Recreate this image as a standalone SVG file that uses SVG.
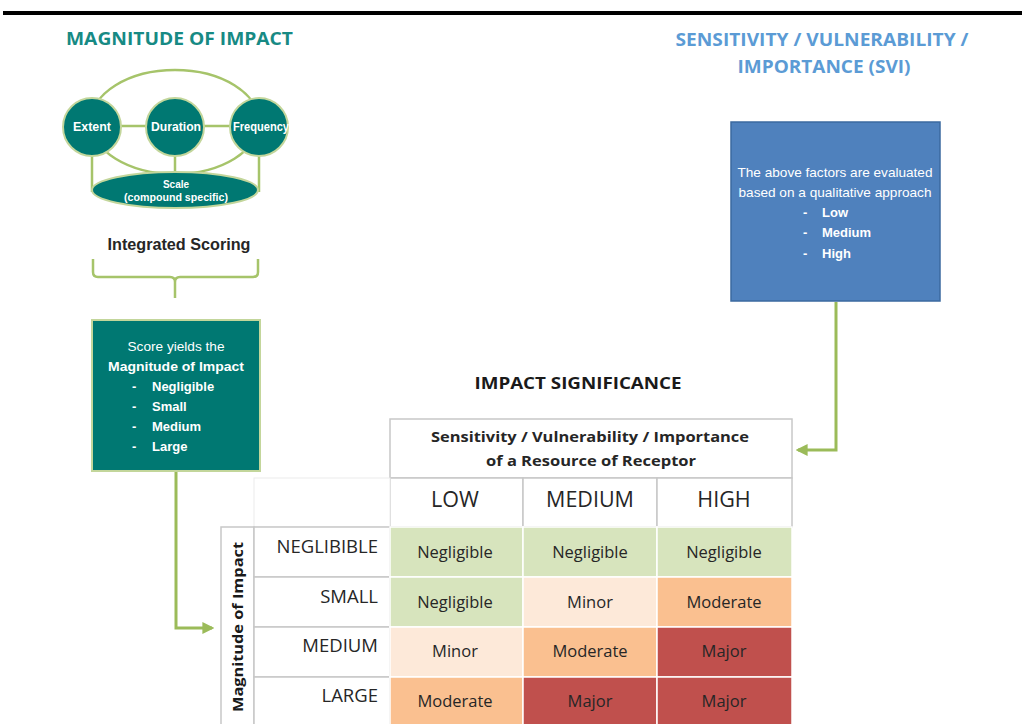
<svg xmlns="http://www.w3.org/2000/svg" width="1022" height="724" viewBox="0 0 1022 724">
<defs>
<style>
.t{font-family:"Open Sans","Liberation Sans",sans-serif}
.n{font-family:"Liberation Sans Narrow","Liberation Sans",sans-serif}
.wt{fill:#fff}
.conn{fill:none;stroke:#9bbb59;stroke-width:3}
.gl{stroke:#c8c8c8;stroke-width:1.5;fill:#fff}
.ct{font-family:"Open Sans","Liberation Sans",sans-serif;font-size:16.5px;fill:#262626;text-anchor:middle}
.rh{font-family:"Open Sans","Liberation Sans",sans-serif;font-size:18.5px;fill:#262626;text-anchor:end}
.ch{font-family:"Open Sans","Liberation Sans",sans-serif;font-size:21.5px;fill:#262626;text-anchor:middle}
</style>
<marker id="ah" viewBox="0 0 10 10" refX="8" refY="5" markerWidth="4" markerHeight="4" orient="auto">
<path d="M0,0 L10,5 L0,10 Z" fill="#9bbb59"/>
</marker>
</defs>
<rect width="1022" height="724" fill="#fff"/>
<rect x="3" y="11" width="1019" height="4" fill="#000"/>

<g id="title-magnitude">
<text class="t" x="66" y="45" font-size="17" font-weight="bold" fill="#178a84" textLength="227" lengthAdjust="spacingAndGlyphs">MAGNITUDE OF IMPACT</text>
</g>
<g id="title-svi">
<text class="t" x="822" y="46" font-size="17" font-weight="bold" fill="#5b9bd5" text-anchor="middle" textLength="293" lengthAdjust="spacingAndGlyphs">SENSITIVITY / VULNERABILITY /</text>
<text class="t" x="824" y="73" font-size="17" font-weight="bold" fill="#5b9bd5" text-anchor="middle" textLength="173" lengthAdjust="spacingAndGlyphs">IMPORTANCE (SVI)</text>
</g>

<g id="factors">
<ellipse cx="175" cy="122" rx="84" ry="52" fill="none" stroke="#a6c46a" stroke-width="2.5"/>
<line x1="92" y1="126" x2="259" y2="126" stroke="#a6c46a" stroke-width="2.5"/>
<line x1="92" y1="150" x2="92" y2="192" stroke="#a6c46a" stroke-width="2.5"/>
<line x1="175" y1="150" x2="175" y2="180" stroke="#a6c46a" stroke-width="2.5"/>
<line x1="259" y1="150" x2="259" y2="192" stroke="#a6c46a" stroke-width="2.5"/>
<g id="extent"><circle cx="92" cy="127" r="29" fill="#007872" stroke="#c3d69b" stroke-width="2"/>
<text class="n wt" x="92" y="131" font-size="12" font-weight="bold" text-anchor="middle" textLength="38" lengthAdjust="spacingAndGlyphs">Extent</text></g>
<g id="duration"><circle cx="175" cy="127" r="29" fill="#007872" stroke="#c3d69b" stroke-width="2"/>
<text class="n wt" x="176" y="131" font-size="12" font-weight="bold" text-anchor="middle" textLength="50" lengthAdjust="spacingAndGlyphs">Duration</text></g>
<g id="frequency"><circle cx="259" cy="127" r="29" fill="#007872" stroke="#c3d69b" stroke-width="2"/>
<text class="n wt" x="261" y="131" font-size="12" font-weight="bold" text-anchor="middle" textLength="56" lengthAdjust="spacingAndGlyphs">Frequency</text></g>
<g id="scale"><ellipse cx="175" cy="190" rx="83" ry="18" fill="#007872" stroke="#c3d69b" stroke-width="2"/>
<text class="n wt" x="176" y="188" font-size="10" font-weight="bold" text-anchor="middle">Scale</text>
<text class="n wt" x="176" y="201" font-size="10" font-weight="bold" text-anchor="middle" textLength="104" lengthAdjust="spacingAndGlyphs">(compound specific)</text></g>
</g>

<g id="integrated-scoring">
<text class="n" x="179" y="250" font-size="16" font-weight="bold" fill="#262626" text-anchor="middle" textLength="143" lengthAdjust="spacingAndGlyphs">Integrated Scoring</text>
<path d="M93,259 V272 Q93,277 98,277 H170 Q175,277 175,282 V298 M175,282 Q175,277 180,277 H253 Q258,277 258,272 V259" fill="none" stroke="#a6c46a" stroke-width="2.5"/>
</g>

<g id="magnitude-box">
<rect x="92" y="320" width="168" height="151" fill="#007872" stroke="#c3d69b" stroke-width="2"/>
<text class="n wt" x="176" y="351" font-size="13" text-anchor="middle" textLength="97" lengthAdjust="spacingAndGlyphs">Score yields  the</text>
<text class="n wt" x="176" y="371" font-size="13" font-weight="bold" text-anchor="middle" textLength="136" lengthAdjust="spacingAndGlyphs">Magnitude of Impact</text>
<g class="n wt" font-size="13" font-weight="bold">
<text x="132" y="391">-</text><text x="152" y="391">Negligible</text>
<text x="132" y="411">-</text><text x="152" y="411">Small</text>
<text x="132" y="431">-</text><text x="152" y="431">Medium</text>
<text x="132" y="451">-</text><text x="152" y="451">Large</text>
</g>
</g>

<g id="svi-box">
<rect x="731" y="122" width="209" height="179" fill="#4f81bd" stroke="#3b6aa0" stroke-width="1.5"/>
<text class="n wt" x="835" y="177" font-size="13" text-anchor="middle" textLength="195" lengthAdjust="spacingAndGlyphs">The above  factors are evaluated</text>
<text class="n wt" x="835" y="197" font-size="13" text-anchor="middle" textLength="193" lengthAdjust="spacingAndGlyphs">based on a qualitative  approach</text>
<g class="n wt" font-size="13" font-weight="bold">
<text x="803" y="217">-</text><text x="822" y="217">Low</text>
<text x="803" y="237">-</text><text x="822" y="237">Medium</text>
<text x="803" y="258">-</text><text x="822" y="258">High</text>
</g>
</g>

<g id="connectors">
<path class="conn" d="M176,472 V628 H212" marker-end="url(#ah)"/>
<path class="conn" d="M836,302 V450 H798" marker-end="url(#ah)"/>
</g>

<g id="impact-significance">
<text class="t" x="578" y="389" font-size="16" font-weight="bold" fill="#1a1a1a" text-anchor="middle" textLength="207" lengthAdjust="spacingAndGlyphs">IMPACT SIGNIFICANCE</text>
<g id="header">
<rect class="gl" x="390" y="419" width="402" height="59"/>
<text class="t" x="590" y="442" font-size="14" font-weight="bold" fill="#262626" text-anchor="middle" textLength="318" lengthAdjust="spacingAndGlyphs">Sensitivity / Vulnerability / Importance</text>
<text class="t" x="591" y="466" font-size="14" font-weight="bold" fill="#262626" text-anchor="middle" textLength="210" lengthAdjust="spacingAndGlyphs">of a Resource of Receptor</text>
<rect class="gl" x="390" y="478" width="133" height="49"/>
<rect class="gl" x="523" y="478" width="134" height="49"/>
<rect class="gl" x="657" y="478" width="135" height="49"/>
<text class="ch" x="455" y="507">LOW</text>
<text class="ch" x="590" y="507">MEDIUM</text>
<text class="ch" x="724" y="507">HIGH</text>
<rect x="254" y="478" width="136" height="49" fill="#fff" stroke="#ececec" stroke-width="1"/>
</g>
<g id="row-labels">
<rect class="gl" x="221" y="527" width="33" height="200"/>
<text class="t" transform="translate(243,627) rotate(-90)" font-size="14" font-weight="bold" fill="#1a1a1a" text-anchor="middle" textLength="170" lengthAdjust="spacingAndGlyphs">Magnitude of Impact</text>
<rect class="gl" x="254" y="527" width="136" height="50"/>
<rect class="gl" x="254" y="577" width="136" height="50"/>
<rect class="gl" x="254" y="627" width="136" height="50"/>
<rect class="gl" x="254" y="677" width="136" height="50"/>
<text class="rh" x="378" y="553">NEGLIBIBLE</text>
<text class="rh" x="378" y="603">SMALL</text>
<text class="rh" x="378" y="652">MEDIUM</text>
<text class="rh" x="378" y="702">LARGE</text>
</g>
<g id="cells" stroke="#fff" stroke-width="1.5">
<rect x="390" y="527" width="133" height="50" fill="#d7e4bd"/>
<rect x="523" y="527" width="134" height="50" fill="#d7e4bd"/>
<rect x="657" y="527" width="135" height="50" fill="#d7e4bd"/>
<rect x="390" y="577" width="133" height="50" fill="#d7e4bd"/>
<rect x="523" y="577" width="134" height="50" fill="#fde9d9"/>
<rect x="657" y="577" width="135" height="50" fill="#fac090"/>
<rect x="390" y="627" width="133" height="50" fill="#fde9d9"/>
<rect x="523" y="627" width="134" height="50" fill="#fac090"/>
<rect x="657" y="627" width="135" height="50" fill="#c0504d"/>
<rect x="390" y="677" width="133" height="50" fill="#fac090"/>
<rect x="523" y="677" width="134" height="50" fill="#c0504d"/>
<rect x="657" y="677" width="135" height="50" fill="#c0504d"/>
</g>
<g id="cell-text">
<text class="ct" x="455" y="558">Negligible</text>
<text class="ct" x="590" y="558">Negligible</text>
<text class="ct" x="724" y="558">Negligible</text>
<text class="ct" x="455" y="608">Negligible</text>
<text class="ct" x="590" y="608">Minor</text>
<text class="ct" x="724" y="608">Moderate</text>
<text class="ct" x="455" y="657">Minor</text>
<text class="ct" x="590" y="657">Moderate</text>
<text class="ct" x="724" y="657">Major</text>
<text class="ct" x="455" y="707">Moderate</text>
<text class="ct" x="590" y="707">Major</text>
<text class="ct" x="724" y="707">Major</text>
</g>
</g>
</svg>
